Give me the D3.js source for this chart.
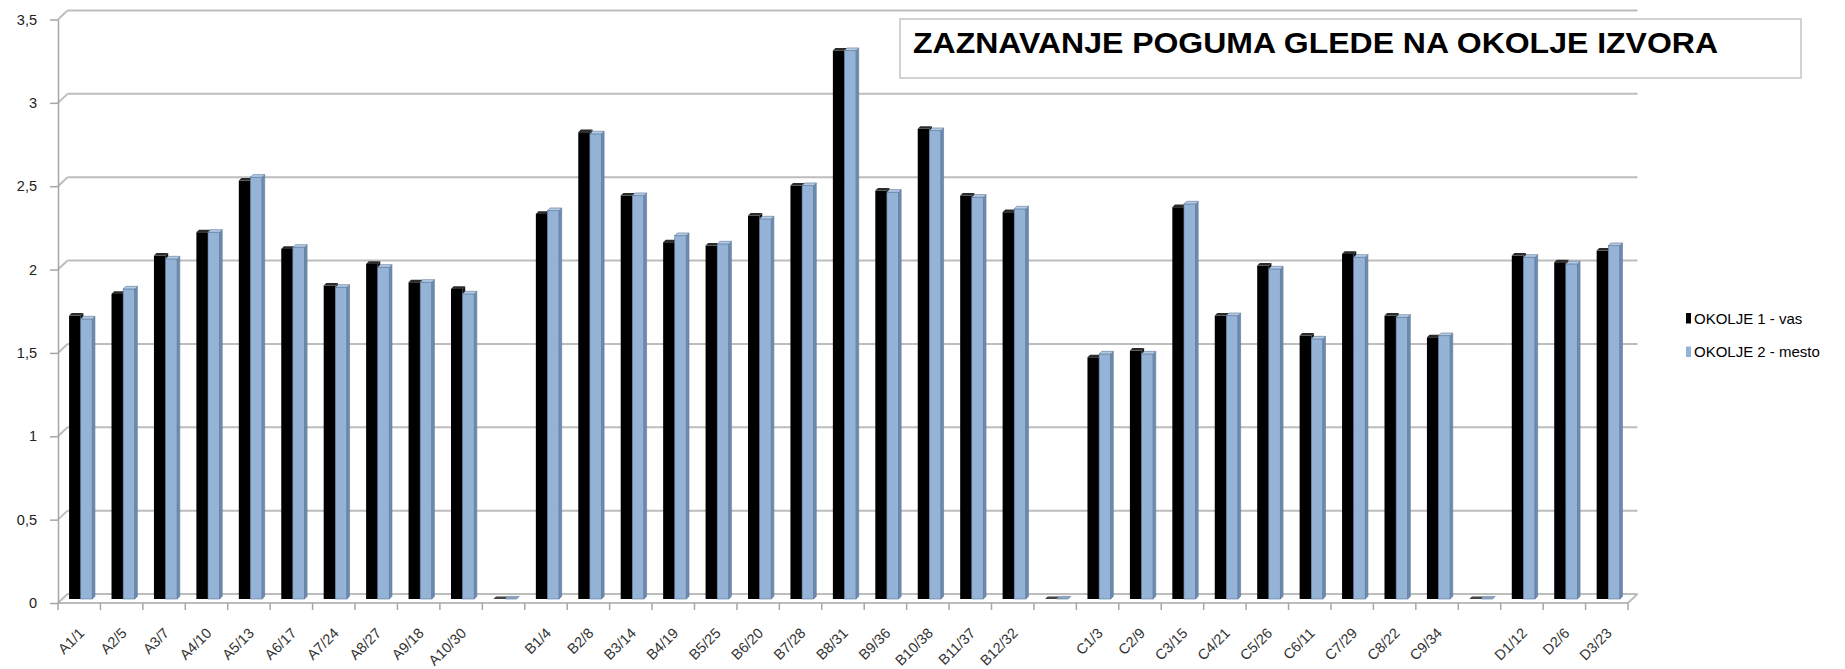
<!DOCTYPE html>
<html>
<head>
<meta charset="utf-8">
<script src="https://cdn.jsdelivr.net/npm/d3@7"></script>
<style>
  html, body { margin: 0; padding: 0; background: #fff; }
  svg { display: block; font-family: "Liberation Sans", Arial, sans-serif; }
</style>
</head>
<body>
<div id="chart"></div>
<script>
// categories (blank entries are the empty gaps between groups)
const categories = [
  "A1/1", "A2/5", "A3/7", "A4/10", "A5/13", "A6/17", "A7/24", "A8/27", "A9/18", "A10/30",
  "",
  "B1/4", "B2/8", "B3/14", "B4/19", "B5/25", "B6/20", "B7/28", "B8/31", "B9/36", "B10/38", "B11/37", "B12/32",
  "",
  "C1/3", "C2/9", "C3/15", "C4/21", "C5/26", "C6/11", "C7/29", "C8/22", "C9/34",
  "",
  "D1/12", "D2/6", "D3/23"
];

const vas = [
  1.70, 1.83, 2.06, 2.20, 2.51, 2.10, 1.88, 2.01, 1.90, 1.86,
  0,
  2.31, 2.80, 2.42, 2.14, 2.12, 2.30, 2.48, 3.29, 2.45, 2.82, 2.42, 2.32,
  0,
  1.45, 1.49, 2.35, 1.70, 2.00, 1.58, 2.07, 1.70, 1.57,
  0,
  2.06, 2.02, 2.09
];

const mesto = [
  1.68, 1.86, 2.04, 2.20, 2.53, 2.11, 1.87, 1.99, 1.90, 1.83,
  0,
  2.33, 2.79, 2.42, 2.18, 2.13, 2.28, 2.48, 3.29, 2.44, 2.81, 2.41, 2.34,
  0,
  1.47, 1.47, 2.37, 1.70, 1.98, 1.56, 2.05, 1.69, 1.58,
  0,
  2.05, 2.01, 2.12
];

const seriesNames = ["OKOLJE 1 - vas", "OKOLJE 2 - mesto"];
const yTicks = [0, 0.5, 1, 1.5, 2, 2.5, 3, 3.5];
const title = "ZAZNAVANJE POGUMA GLEDE NA OKOLJE IZVORA";

const width = 1845, height = 669;
const plot = { left: 58, right: 1628, top: 19.5, bottom: 603 };
const wall = { dx: 9.5, dy: -9 };      // depth offset of the back wall
const barOff = { dx: 1.5, dy: -4 };    // bars sit half way into the floor
const cap = 2.6;                       // depth of the bar itself

const svg = d3.select("#chart").append("svg")
  .attr("width", width)
  .attr("height", height);

svg.append("rect").attr("width", width).attr("height", height).attr("fill", "#fff");

const x = d3.scaleBand()
  .domain(d3.range(categories.length))
  .range([plot.left, plot.right])
  .paddingInner(0)
  .paddingOuter(0);

const y = d3.scaleLinear()
  .domain([0, 3.5])
  .range([plot.bottom, plot.top]);

const fmt = d3.formatLocale({ decimal: ",", thousands: ".", grouping: [3], currency: ["", ""] }).format("~g");

// back wall gridlines + the slant on the side wall
const grid = svg.append("g").attr("stroke", "#bdbdbd").attr("stroke-width", 2).attr("fill", "none");
yTicks.forEach((t) => {
  grid.append("line")
    .attr("x1", plot.left + wall.dx).attr("x2", plot.right + wall.dx)
    .attr("y1", y(t) + wall.dy).attr("y2", y(t) + wall.dy);
  grid.append("line")
    .attr("x1", plot.left).attr("x2", plot.left + wall.dx)
    .attr("y1", y(t)).attr("y2", y(t) + wall.dy);
});
// right edge of the floor
grid.append("line")
  .attr("x1", plot.right).attr("x2", plot.right + wall.dx)
  .attr("y1", y(0)).attr("y2", y(0) + wall.dy);

// y axis
const yAxis = svg.append("g")
  .attr("transform", `translate(${plot.left},0)`)
  .call(d3.axisLeft(y).tickValues(yTicks).tickFormat(fmt).tickSize(8).tickSizeOuter(0).tickPadding(13));
yAxis.select(".domain").attr("stroke", "#a6a6a6").attr("stroke-width", 1.5);
yAxis.selectAll(".tick line").attr("stroke", "#a6a6a6").attr("stroke-width", 1.5);
yAxis.selectAll(".tick text")
  .attr("font-size", 14.5)
  .attr("fill", "#222")
  .attr("font-family", "Liberation Sans, Arial, sans-serif");

// x axis line and ticks at the category edges
const xAxis = svg.append("g").attr("stroke", "#a6a6a6").attr("stroke-width", 1.5);
xAxis.append("line")
  .attr("x1", plot.left).attr("x2", plot.right)
  .attr("y1", y(0)).attr("y2", y(0));
d3.range(categories.length + 1).forEach((i) => {
  const xe = i < categories.length ? x(i) : plot.right;
  xAxis.append("line")
    .attr("x1", xe).attr("x2", xe)
    .attr("y1", y(0)).attr("y2", y(0) + 7);
});

// bars
const bw = x.bandwidth() / 3.65;
const colors = [
  { front: "#000000", side: "#111111", top: "#2b2b2b", stroke: "none" },
  { front: "#95b3d7", side: "#6e8bb0", top: "#b6cae3", stroke: "#5d7899" }
];

const bars = svg.append("g");
categories.forEach((c, i) => {
  const cx = x(i) + x.bandwidth() / 2 + barOff.dx;
  [vas[i], mesto[i]].forEach((v, s) => {
    const col = colors[s];
    const x0 = cx - bw + s * bw;
    const yb = y(0) + barOff.dy;
    const yt = y(v) + barOff.dy;
    const g = bars.append("g");
    if (v > 0) {
      g.append("rect")
        .attr("x", x0).attr("y", yt)
        .attr("width", bw).attr("height", yb - yt)
        .attr("fill", col.front)
        .attr("stroke", col.stroke).attr("stroke-width", 0.6);
      g.append("polygon")
        .attr("points", [[x0 + bw, yt], [x0 + bw + cap, yt - cap], [x0 + bw + cap, yb - cap], [x0 + bw, yb]].join(" "))
        .attr("fill", col.side)
        .attr("stroke", col.stroke).attr("stroke-width", 0.6);
    }
    g.append("polygon")
      .attr("points", [[x0, yt], [x0 + bw, yt], [x0 + bw + cap, yt - cap], [x0 + cap, yt - cap]].join(" "))
      .attr("fill", v > 0 ? col.top : (s === 0 ? "#444" : "#8ea6c4"))
      .attr("stroke", col.stroke).attr("stroke-width", 0.6);
  });
});

// category labels
svg.append("g").selectAll("text")
  .data(categories)
  .join("text")
  .attr("transform", (d, i) => `translate(${x(i) + x.bandwidth() / 2 + 6},${y(0) + 31}) rotate(-45)`)
  .attr("text-anchor", "end")
  .attr("font-size", 14.5)
  .attr("fill", "#333")
  .text((d) => d);

// title box
svg.append("rect")
  .attr("x", 900).attr("y", 19)
  .attr("width", 901).attr("height", 59)
  .attr("fill", "#fff")
  .attr("stroke", "#c4c4c4").attr("stroke-width", 1.5);
svg.append("text")
  .attr("x", 913).attr("y", 53)
  .attr("font-size", 30)
  .attr("font-weight", "bold")
  .attr("fill", "#000")
  .attr("textLength", 805)
  .attr("lengthAdjust", "spacingAndGlyphs")
  .text(title);

// legend
const legend = svg.append("g");
seriesNames.forEach((name, s) => {
  const ly = 313 + s * 33.5;
  legend.append("rect")
    .attr("x", 1686).attr("y", ly)
    .attr("width", 5).attr("height", 10.5)
    .attr("fill", colors[s].front);
  legend.append("text")
    .attr("x", 1694).attr("y", ly + 10.5)
    .attr("font-size", 15)
    .attr("fill", "#000")
    .text(name);
});
</script>
</body>
</html>
